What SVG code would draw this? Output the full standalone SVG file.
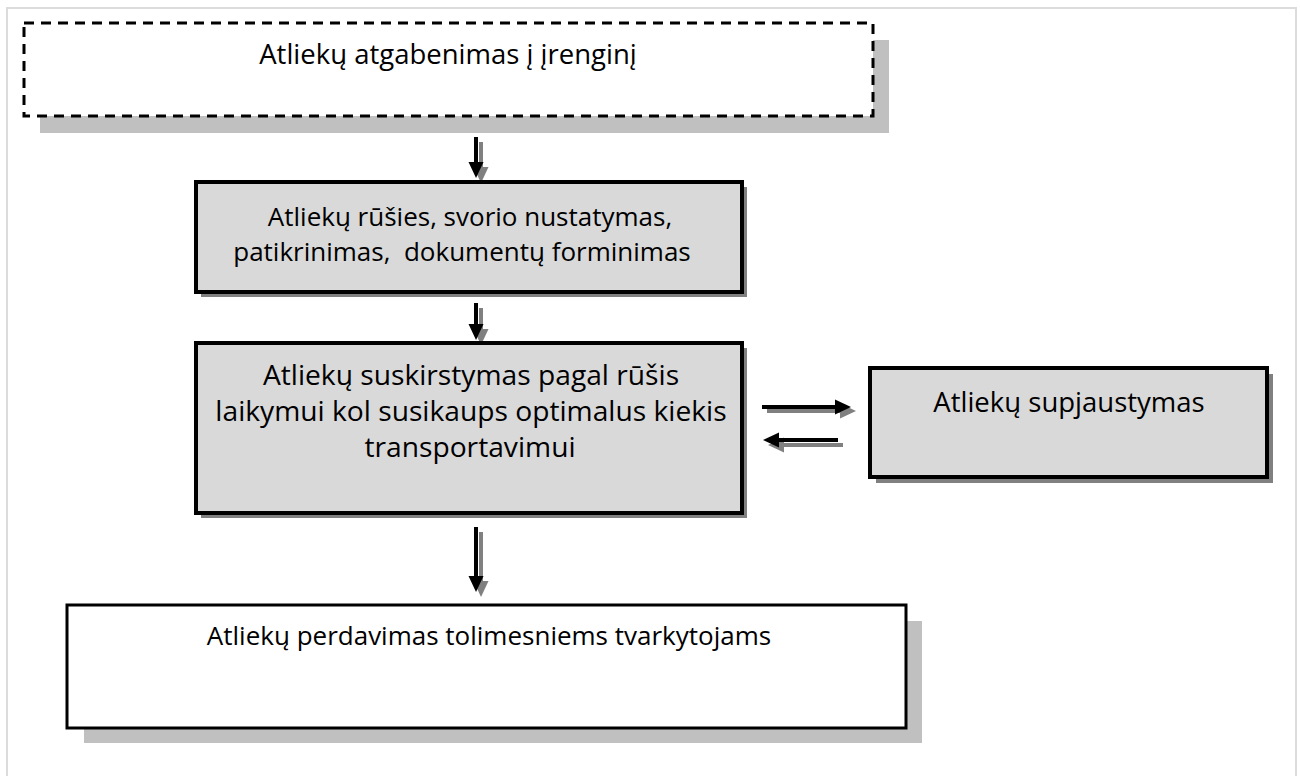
<svg xmlns="http://www.w3.org/2000/svg" width="1300" height="776" viewBox="0 0 1300 776">
<defs>
<style>
.frame{fill:#ffffff;stroke:#dcdcdc;stroke-width:2}
.lt{font-family:"Open Sans","Liberation Sans",sans-serif;font-size:27.5px;fill:#000;text-anchor:middle;white-space:pre}
.sm{font-size:26px}
.lg{font-size:28.2px}
.box{fill:#d9d9d9;stroke:#000;stroke-width:4}
.wbox{fill:#fff;stroke:#000;stroke-width:3}
.dbox{fill:#fff;stroke:#000;stroke-width:3;stroke-dasharray:10 7}
.sh1{fill:#c0c0c0}
.sh2{fill:#808080}
.ab{stroke:#000;stroke-width:4;fill:none}
.ag{stroke:#808080;stroke-width:4;fill:none}
</style>
<marker id="hb" markerUnits="userSpaceOnUse" markerWidth="17" markerHeight="16" refX="0" refY="7.5" orient="auto" overflow="visible">
<path d="M0,0 L16,7.5 L0,15 Z" fill="#000"/>
</marker>
<marker id="hg" markerUnits="userSpaceOnUse" markerWidth="17" markerHeight="16" refX="0" refY="7.5" orient="auto" overflow="visible">
<path d="M0,0 L16,7.5 L0,15 Z" fill="#808080"/>
</marker>
</defs>
<rect x="0" y="0" width="1300" height="776" fill="#fff"/>
<rect class="frame" x="7" y="8" width="1289" height="780"/>

<g id="connectors">
<line class="ag" x1="481" y1="142" x2="481" y2="167" marker-end="url(#hg)"/>
<line class="ab" x1="476" y1="137" x2="476" y2="162" marker-end="url(#hb)"/>
<line class="ag" x1="481" y1="308" x2="481" y2="329" marker-end="url(#hg)"/>
<line class="ab" x1="476" y1="303" x2="476" y2="324" marker-end="url(#hb)"/>
<line class="ag" x1="481" y1="532" x2="481" y2="581" marker-end="url(#hg)"/>
<line class="ab" x1="476" y1="527" x2="476" y2="576" marker-end="url(#hb)"/>
<line class="ag" x1="767" y1="411" x2="840" y2="411" marker-end="url(#hg)"/>
<line class="ab" x1="762" y1="407" x2="835" y2="407" marker-end="url(#hb)"/>
<line class="ag" x1="843" y1="445" x2="784" y2="445" marker-end="url(#hg)"/>
<line class="ab" x1="838" y1="440" x2="779" y2="440" marker-end="url(#hb)"/>
</g>

<g id="node1">
<rect class="sh1" x="40" y="40" width="849" height="93"/>
<rect class="dbox" x="24" y="23" width="849" height="93"/>
<text class="lt" x="448" y="64">Atliekų atgabenimas į įrenginį</text>
</g>

<g id="node2">
<rect class="sh2" x="201" y="187" width="546" height="110"/>
<rect class="box" x="196" y="182" width="546" height="110"/>
<text class="lt sm" x="470" y="226">Atliekų rūšies, svorio nustatymas,</text>
<text class="lt sm" x="462" y="261">patikrinimas,  dokumentų forminimas</text>
</g>

<g id="node3">
<rect class="sh2" x="201" y="348" width="546" height="170"/>
<rect class="box" x="196" y="343" width="546" height="170"/>
<text class="lt lg" x="471" y="385">Atliekų suskirstymas pagal rūšis</text>
<text class="lt lg" x="471" y="421">laikymui kol susikaups optimalus kiekis</text>
<text class="lt lg" x="470" y="457">transportavimui</text>
</g>

<g id="node4">
<rect class="sh2" x="876" y="374" width="397" height="109"/>
<rect class="box" x="870" y="368" width="397" height="109"/>
<text class="lt" x="1069" y="412">Atliekų supjaustymas</text>
</g>

<g id="node5">
<rect class="sh1" x="84" y="621" width="838" height="122"/>
<rect class="wbox" x="67" y="605" width="839" height="123"/>
<text class="lt sm" x="489" y="645">Atliekų perdavimas tolimesniems tvarkytojams</text>
</g>
</svg>
